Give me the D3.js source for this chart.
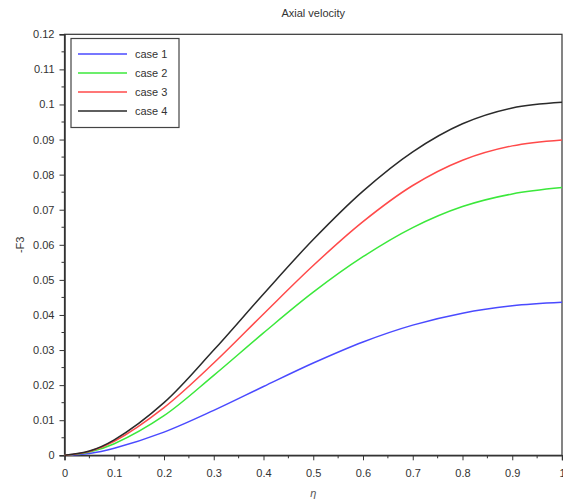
<!DOCTYPE html>
<html>
<head>
<meta charset="utf-8">
<script src="https://cdn.jsdelivr.net/npm/d3@7"></script>
<style>
body { margin: 0; background: #fff; }
text { font-family: "Liberation Sans", Arial, sans-serif; }
</style>
</head>
<body>
<svg id="chart" width="563" height="500"></svg>
<script>
const eta = [0, 0.05, 0.1, 0.2, 0.3, 0.4, 0.5, 0.6, 0.7, 0.8, 0.9, 1.0];
const case1 = [0, 0.0005, 0.0020, 0.0066, 0.0128, 0.0196, 0.0263, 0.0323, 0.0371, 0.0405, 0.0426, 0.0436];
const case2 = [0, 0.0009, 0.0033, 0.0113, 0.0228, 0.0349, 0.0465, 0.0566, 0.0649, 0.0709, 0.0745, 0.0763];
const case3 = [0, 0.0011, 0.0040, 0.0136, 0.0263, 0.0403, 0.0541, 0.0666, 0.0769, 0.0841, 0.0882, 0.0899];
const case4 = [0, 0.0012, 0.0044, 0.0150, 0.0300, 0.0460, 0.0615, 0.0753, 0.0865, 0.0945, 0.0990, 0.1006];
const seriesNames = ["case 1", "case 2", "case 3", "case 4"];
const seriesColors = ["#4a4aff", "#3be83b", "#ff4a4a", "#2a2a2a"];
const xTicks = [0, 0.1, 0.2, 0.3, 0.4, 0.5, 0.6, 0.7, 0.8, 0.9, 1];
const xTickLabels = ["0", "0.1", "0.2", "0.3", "0.4", "0.5", "0.6", "0.7", "0.8", "0.9", "1"];
const yTicks = [0, 0.01, 0.02, 0.03, 0.04, 0.05, 0.06, 0.07, 0.08, 0.09, 0.1, 0.11, 0.12];
const yTickLabels = ["0", "0.01", "0.02", "0.03", "0.04", "0.05", "0.06", "0.07", "0.08", "0.09", "0.1", "0.11", "0.12"];

const svg = d3.select("#chart");
const L = 64.5, R = 562, T = 34.3, B = 455.3;
const x = d3.scaleLinear().domain([0, 1]).range([L, R]);
const y = d3.scaleLinear().domain([0, 0.12]).range([B, T]);
const axisColor = "#333";
const textColor = "#333";

// frame
svg.append("rect").attr("x", L).attr("y", T).attr("width", R - L).attr("height", B - T)
  .attr("fill", "none").attr("stroke", axisColor).attr("stroke-width", 1.2);

// x axis
const xAxis = d3.axisBottom(x).tickValues(xTicks).tickFormat((d, i) => xTickLabels[i]).tickSize(5).tickPadding(9);
const gx = svg.append("g").attr("transform", `translate(0,${B})`).call(xAxis);
gx.select(".domain").attr("stroke", axisColor).attr("stroke-width", 1.5);
gx.selectAll(".tick line").attr("stroke", axisColor);
gx.selectAll(".tick text").attr("fill", textColor).attr("font-size", 11);
const xMinor = d3.range(0.05, 1, 0.1);
svg.append("g").selectAll("line").data(xMinor).join("line")
  .attr("x1", d => x(d)).attr("x2", d => x(d)).attr("y1", B).attr("y2", B + 3)
  .attr("stroke", axisColor);

// y axis
const yAxis = d3.axisLeft(y).tickValues(yTicks).tickFormat((d, i) => yTickLabels[i]).tickSize(5).tickPadding(5);
const gy = svg.append("g").attr("transform", `translate(${L},0)`).call(yAxis);
gy.select(".domain").attr("stroke", axisColor).attr("stroke-width", 1.5);
gy.selectAll(".tick line").attr("stroke", axisColor);
gy.selectAll(".tick text").attr("fill", textColor).attr("font-size", 11);
const yMinor = d3.range(0.005, 0.12, 0.01);
svg.append("g").selectAll("line").data(yMinor).join("line")
  .attr("x1", L - 3).attr("x2", L).attr("y1", d => y(d)).attr("y2", d => y(d))
  .attr("stroke", axisColor);

// curves
const allSeries = [case1, case2, case3, case4];
const line = d3.line().x((d, i) => x(eta[i])).y(d => y(d)).curve(d3.curveCatmullRom.alpha(0.5));
allSeries.forEach((s, k) => {
  svg.append("path").datum(s).attr("d", line).attr("fill", "none")
    .attr("stroke", seriesColors[k]).attr("stroke-width", 1.5);
});

// title & labels
svg.append("text").attr("x", (L + R) / 2).attr("y", 17).attr("text-anchor", "middle")
  .attr("font-size", 11).attr("fill", textColor).text("Axial velocity");
svg.append("text").attr("x", (L + R) / 2).attr("y", 497).attr("text-anchor", "middle")
  .attr("font-size", 11).attr("font-style", "italic").attr("fill", "#555").text("η");
svg.append("text").attr("transform", `translate(24,${(T + B) / 2}) rotate(-90)`)
  .attr("text-anchor", "middle").attr("font-size", 11).attr("fill", textColor).text("-F3");

// legend
const lg = svg.append("g");
lg.append("rect").attr("x", 71).attr("y", 38.5).attr("width", 108).attr("height", 89)
  .attr("fill", "#fff").attr("stroke", "#444").attr("stroke-width", 1.2);
seriesNames.forEach((name, k) => {
  const yy = 54 + k * 19;
  lg.append("line").attr("x1", 78).attr("x2", 127).attr("y1", yy).attr("y2", yy)
    .attr("stroke", seriesColors[k]).attr("stroke-width", 1.5);
  lg.append("text").attr("x", 135).attr("y", yy + 4).attr("font-size", 11)
    .attr("fill", textColor).text(name);
});
</script>
</body>
</html>
